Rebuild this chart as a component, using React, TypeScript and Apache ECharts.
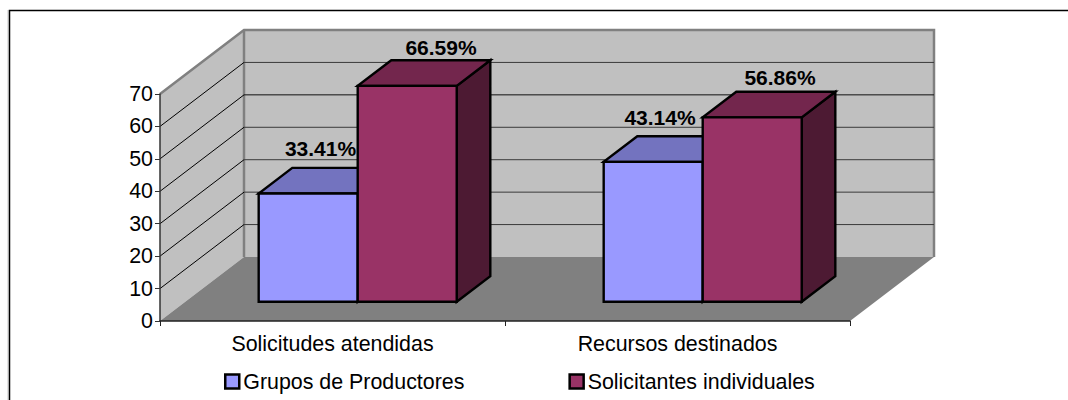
import React, { useEffect, useRef } from "react";
import * as echarts from "echarts";

const categories = ["Solicitudes atendidas", "Recursos destinados"];
const grupos = [33.41, 43.14];
const individuales = [66.59, 56.86];
const yTicks = [10, 20, 30, 40, 50, 60, 70];
const seriesNames = ["Grupos de Productores", "Solicitantes individuales"];

const FONT = '"Liberation Sans", Arial, sans-serif';
// Oblique projection of the chart box: full depth vector, and the slab the bars occupy in it.
const DEPTH = [84, -64];
const BAR_Z = [0.3, 0.7];
const BAR_BAND = 0.287;
const LABEL_FONT = `bold 21px ${FONT}`;
const EDGE = "#808080";

const shade = (z: number) => [DEPTH[0] * z, DEPTH[1] * z];
const poly = (points: number[][], fill: string, stroke?: string, lineWidth = 0, z2 = 0) => ({
  type: "polygon",
  z2,
  shape: { points },
  style: { fill, stroke: stroke ?? "none", lineWidth, lineJoin: "miter" },
});

// Back wall, side wall and floor of the box.
const renderRoom = (_: any, api: any) => {
  const band = api.size([1, 0])[0];
  const top = api.coord([0, 70]);
  const base = api.coord([0, 0]);
  const xL = top[0] - band / 2;
  const xR = xL + 2 * band;
  const [dx, dy] = DEPTH;
  return {
    type: "group",
    children: [
      poly(
        [[xL + dx, top[1] + dy], [xR + dx, top[1] + dy], [xR + dx, base[1] + dy], [xL + dx, base[1] + dy]],
        "#C0C0C0"
      ),
      poly([[xL, top[1]], [xL + dx, top[1] + dy], [xL + dx, base[1] + dy], [xL, base[1]]], "#C0C0C0"),
      poly(
        [[xL, base[1]], [xR, base[1]], [xR + dx, base[1] + dy], [xL + dx, base[1] + dy]],
        "#808080"
      ),
      {
        type: "polyline",
        shape: {
          points: [[xL, top[1]], [xL + dx, top[1] + dy], [xR + dx, top[1] + dy], [xR + dx, base[1] + dy]],
        },
        style: { fill: "none", stroke: EDGE, lineWidth: 2.5 },
      },
      {
        type: "line",
        shape: { x1: xL + dx, y1: top[1] + dy, x2: xL + dx, y2: base[1] + dy },
        style: { stroke: EDGE, lineWidth: 2.5 },
      },
    ],
  };
};

// Gridline for one tick: along the side wall, then across the back wall.
const renderGridline = (_: any, api: any) => {
  const band = api.size([1, 0])[0];
  const value = api.value(0);
  const p = api.coord([0, value]);
  const xL = p[0] - band / 2;
  const xR = xL + 2 * band;
  const [dx, dy] = DEPTH;
  const last = value === 70;
  return {
    type: "group",
    children: [
      ...(last
        ? []
        : [
            {
              type: "line",
              shape: { x1: xL, y1: p[1], x2: xL + dx, y2: p[1] + dy },
              style: { stroke: "#000", lineWidth: 1 },
            },
            {
              type: "line",
              shape: { x1: xL + dx, y1: p[1] + dy, x2: xR + dx, y2: p[1] + dy },
              style: { stroke: value === 50 ? "#111" : "#3a3a3a", lineWidth: 1 },
            },
          ]),
    ],
  };
};

const labelNudge = [
  [[-4.5, -19], [17, -13]],
  [[-10, -19], [11, -14]],
];

// One 3D column: front, top and right faces plus its percentage label.
const makeBarRenderer =
  (seriesIdx: number, front: string, topFace: string, sideFace: string) => (_: any, api: any) => {
    const i = api.value(0);
    const v = api.value(1);
    const band = api.size([1, 0])[0];
    const w = band * BAR_BAND;
    const c = api.coord([i, v]);
    const b = api.coord([i, 0]);
    const [ox, oy] = shade(BAR_Z[0]);
    const [ex, ey] = shade(BAR_Z[1]);
    const x0 = c[0] + (seriesIdx === 0 ? -w : 0);
    const x1 = x0 + w;
    const F = (x: number, y: number, d: number[]) => [x + d[0], y + d[1]];
    const o = [ox, oy];
    const e = [ex, ey];
    const stroke = "#000";
    const nudge = labelNudge[i][seriesIdx];
    return {
      type: "group",
      children: [
        poly([F(x1, c[1], o), F(x1, c[1], e), F(x1, b[1], e), F(x1, b[1], o)], sideFace, stroke, 2.4),
        poly([F(x0, c[1], o), F(x1, c[1], o), F(x1, c[1], e), F(x0, c[1], e)], topFace, stroke, 2.4),
        poly([F(x0, c[1], o), F(x1, c[1], o), F(x1, b[1], o), F(x0, b[1], o)], front, stroke, 2.4),
        {
          type: "text",
          z2: 5,
          style: {
            text: `${v.toFixed(2)}%`,
            x: x0 + ox + (w + ex - ox) / 2 + nudge[0],
            y: c[1] + ey + nudge[1],
            font: LABEL_FONT,
            fill: "#000",
            align: "center",
            verticalAlign: "middle",
          },
        },
      ],
    };
  };

export default function App() {
  const ref = useRef<HTMLDivElement>(null);

  useEffect(() => {
    const chart = echarts.init(ref.current!, undefined, { renderer: "svg" });
    chart.setOption({
      animation: false,
      backgroundColor: "#fff",
      textStyle: { fontFamily: FONT },
      grid: { left: 160, right: 218, top: 94, bottom: 79 },
      xAxis: {
        type: "category",
        data: categories,
        z: 6,
        axisLine: { lineStyle: { color: "#222", width: 1.5 } },
        axisTick: { show: true, alignWithLabel: false, interval: 0, length: 5, lineStyle: { color: "#222", width: 1 } },
        axisLabel: { color: "#000", fontSize: 21.4, fontFamily: FONT, margin: 12 },
        splitLine: { show: false },
      },
      yAxis: {
        type: "value",
        min: 0,
        max: 70,
        interval: 10,
        z: 6,
        axisLine: { show: true, lineStyle: { color: "#333", width: 1.5 } },
        axisTick: { show: true, length: 5, lineStyle: { color: "#333", width: 1 } },
        axisLabel: { color: "#000", fontSize: 21.4, fontFamily: FONT, margin: 7 },
        splitLine: { show: false },
      },
      legend: {
        left: 219,
        top: 366,
        itemWidth: 14,
        itemHeight: 14,
        itemGap: 104,
        icon: "rect",
        data: seriesNames,
        selectedMode: false,
        itemStyle: { borderColor: "#000", borderWidth: 2.5 },
        textStyle: { fontSize: 21.4, color: "#000", fontFamily: FONT, padding: [0, 0, 0, -1] },
      },
      series: [
        { type: "custom", silent: true, z: 1, data: [[0]], renderItem: renderRoom, encode: { x: 0 } },
        {
          type: "custom",
          silent: true,
          z: 2,
          data: yTicks.map((t) => [t]),
          renderItem: renderGridline,
          encode: { y: 0 },
        },
        {
          type: "custom",
          name: seriesNames[0],
          silent: true,
          z: 3,
          itemStyle: { color: "#9999FF" },
          data: grupos.map((v, i) => [i, v]),
          encode: { x: 0, y: 1 },
          renderItem: makeBarRenderer(0, "#9999FF", "#7373BF", "#4D4D80"),
        },
        {
          type: "custom",
          name: seriesNames[1],
          silent: true,
          z: 4,
          itemStyle: { color: "#993366" },
          data: individuales.map((v, i) => [i, v]),
          encode: { x: 0, y: 1 },
          renderItem: makeBarRenderer(1, "#993366", "#73264D", "#4D1A33"),
        },
      ],
      graphic: [
        {
          type: "polyline",
          silent: true,
          shape: { points: [[8, 400], [8, 10]] },
          style: { fill: "none", stroke: "#C8C8C8", lineWidth: 1 },
        },
        {
          type: "polyline",
          silent: true,
          shape: { points: [[9.5, 400], [9.5, 10.5], [1068, 10.5]] },
          style: { fill: "none", stroke: "#000", lineWidth: 1.5 },
        },
      ],
    });
    return () => chart.dispose();
  }, []);

  return (
    <div
      ref={ref}
      style={{ position: "absolute", left: 0, top: 0, width: 1068, height: 400, background: "#fff" }}
    />
  );
}
